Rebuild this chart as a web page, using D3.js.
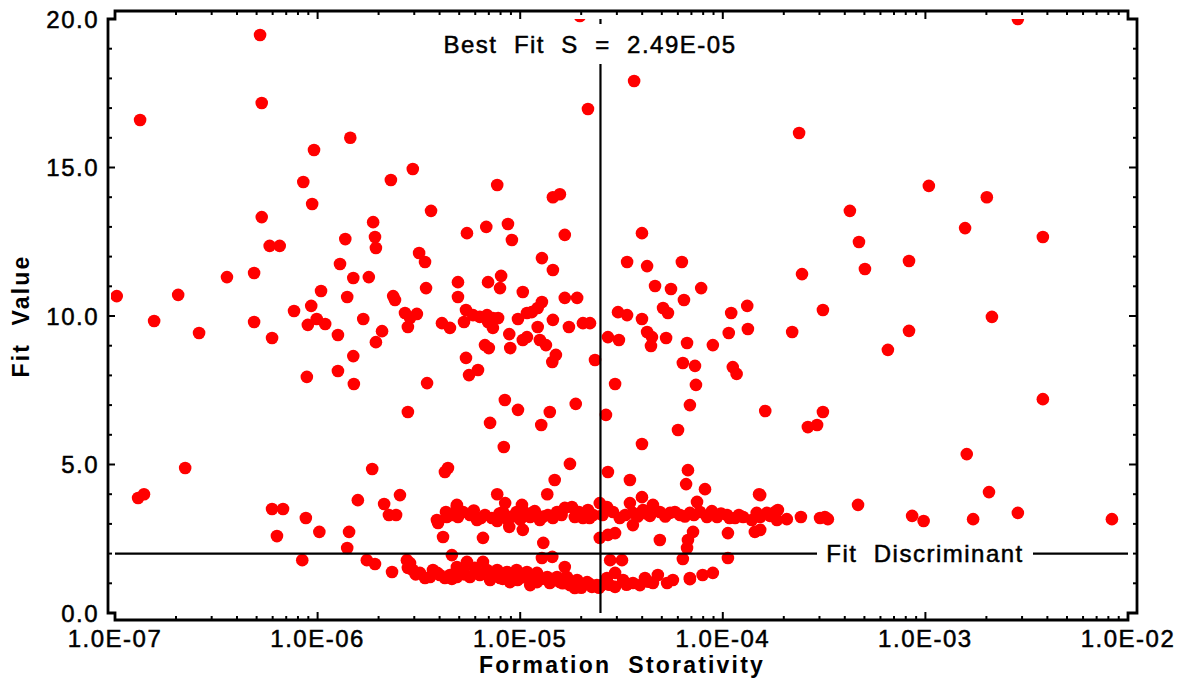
<!DOCTYPE html>
<html>
<head>
<meta charset="utf-8">
<script src="https://cdn.jsdelivr.net/npm/d3@7"></script>
<style>
  body { margin: 0; background: #fff; }
  text { font-family: "Liberation Sans", Arial, sans-serif; fill: #000; }
</style>
</head>
<body>
<svg width="1186" height="686"></svg>
<script>
// axis ticks
var xTickValues = [1e-7, 1e-6, 1e-5, 1e-4, 1e-3, 1e-2];
var xTickLabels = ["1.0E-07", "1.0E-06", "1.0E-05", "1.0E-04", "1.0E-03", "1.0E-02"];
var yTickValues = [0, 5, 10, 15, 20];
var yTickLabels = ["0.0", "5.0", "10.0", "15.0", "20.0"];

var bestFitS = 2.49e-5;
var fitDiscriminant = 2.0;

// [storativity, fit value], grouped by area
var upperLeft = [
  [1.02e-7,10.67],[1.33e-7,16.6],[5.2e-7,19.46],[5.3e-7,17.17],[5.3e-7,13.33],[8.5e-7,14.51],[9.6e-7,15.59],[9.4e-7,13.77],[1.45e-6,16.0],[2.3e-6,14.58],
  [1.88e-6,13.16],[1.92e-6,12.66],[1.94e-6,12.29],[1.37e-6,12.59],[2.95e-6,14.95],[3.63e-6,13.54],[5.8e-7,12.36],[6.5e-7,12.36],[3.57e-7,11.31],[4.86e-7,11.45],
  [2.05e-7,10.71],[1.56e-7,9.83],[2.6e-7,9.43],[4.86e-7,9.8],[5.96e-7,9.26],[7.65e-7,10.17],[9.3e-7,10.34],[1.04e-6,10.84],[8.95e-7,9.7],[9.9e-7,9.9],
  [1.09e-6,9.73],[8.85e-7,7.95],[1.26e-6,9.36],[1.26e-6,8.15],[1.5e-6,8.65],[1.51e-6,7.71],[1.4e-6,10.64],[1.5e-6,11.28],[1.29e-6,11.75],[1.79e-6,11.31],
  [1.68e-6,9.9],[2.08e-6,9.49],[1.94e-6,9.12],[2.36e-6,10.67],[2.41e-6,10.54]
];
var upperMiddle = [
  [2.7e-6,10.1],[2.86e-6,9.93],[3.09e-6,10.07],[2.79e-6,9.63],[3.17e-6,12.12],[3.39e-6,11.82],[3.43e-6,10.94],[3.47e-6,7.74],[4.11e-6,9.76],[4.5e-6,9.6],
  [4.93e-6,11.14],[4.93e-6,10.64],[5.4e-6,10.2],[5.28e-6,9.8],[5.85e-6,10.03],[6.32e-6,9.97],[6.86e-6,10.03],[7.33e-6,9.93],[7.78e-6,9.93],[6.94e-6,9.8],
  [7.33e-6,9.6],[6.94e-6,11.14],[8.05e-6,11.35],[7.95e-6,10.94],[6.7e-6,9.02],[7.0e-6,8.92],[5.4e-6,8.59],[6.19e-6,8.18],[5.59e-6,8.01],[2.79e-6,6.77],
  [8.4e-6,7.17],[9.75e-6,6.84],[7.1e-6,6.4],[8.3e-6,5.59],[1.03e-5,10.81],[1.28e-5,11.95],[1.45e-5,11.55],[1.28e-5,10.47],[1.22e-5,10.27],[1.14e-5,10.13],
  [1.08e-5,10.1],[9.75e-6,9.9],[8.83e-6,9.39],[8.93e-6,8.92],[1.08e-5,9.29],[1.03e-5,9.19],[1.22e-5,9.63],[1.25e-5,9.19],[1.34e-5,9.02],[1.45e-5,9.87],
  [1.5e-5,8.69],[1.44e-5,8.45],[1.74e-5,9.63],[1.66e-5,10.61],[1.91e-5,10.61],[2.04e-5,9.76],[2.21e-5,9.76],[2.34e-5,8.52],[1.88e-5,7.04],[1.4e-5,6.77],
  [1.27e-5,6.33],[7.7e-6,14.41],[1.45e-5,14.0],[1.57e-5,14.1],[5.46e-6,12.79],[6.8e-6,13.0],[8.7e-6,13.1],[9.1e-6,12.56],[1.66e-5,12.73],[2.16e-5,16.97],
  [1.97e-5,20.1]
];
var upperRight = [
  [3.65e-5,17.91],[3.99e-5,12.79],[3.37e-5,11.82],[4.23e-5,11.68],[6.28e-5,11.82],[4.63e-5,11.01],[5.55e-5,10.91],[7.82e-5,10.94],[6.43e-5,10.54],[3.04e-5,10.13],
  [3.37e-5,10.03],[3.99e-5,9.9],[5.07e-5,10.27],[5.36e-5,10.1],[2.71e-5,9.29],[3.07e-5,9.19],[4.23e-5,9.46],[4.47e-5,9.29],[4.42e-5,8.99],[5.25e-5,9.26],
  [6.66e-5,9.09],[8.93e-5,9.02],[1.1e-4,10.1],[1.32e-4,10.34],[1.07e-4,9.43],[1.33e-4,9.56],[6.35e-5,8.42],[7.29e-5,8.32],[1.12e-4,8.28],[1.17e-4,8.05],
  [7.37e-5,7.68],[2.94e-5,7.71],[6.88e-5,7.0],[1.62e-4,6.8],[2.65e-5,6.67],[6.01e-5,6.16],[3.99e-5,5.69],
  [2.38e-4,16.16],[1.04e-3,14.38],[2.01e-3,14.0],[4.24e-4,13.54],[1.57e-3,12.96],[3.8e-3,12.66],[4.7e-4,12.49],[8.3e-4,11.85],[2.46e-4,11.41],[5.03e-4,11.58],
  [3.12e-4,10.2],[2.2e-4,9.46],[8.3e-4,9.5],[2.13e-3,9.97],[6.53e-4,8.86],[3.12e-4,6.77],[2.63e-4,6.26],[2.92e-4,6.33],[3.8e-3,7.2],[1.6e-3,5.35],
  [2.86e-3,20.0]
];
var lowerLeft = [
  [2.22e-7,4.88],[1.3e-7,3.87],[1.39e-7,4.0],[5.96e-7,3.5],[6.75e-7,3.5],[6.3e-7,2.59],[8.75e-7,3.2],[1.02e-6,2.73],[8.4e-7,1.78],[1.43e-6,2.73],
  [1.4e-6,2.19],[1.58e-6,3.8],[1.86e-6,4.85],[2.13e-6,3.67],[2.25e-6,3.3],[2.44e-6,3.3],[2.55e-6,3.97],[1.75e-6,1.78],[1.92e-6,1.65],[2.33e-6,1.38],
  [4.25e-6,4.75],[4.4e-6,4.88],[4.34e-6,3.23],[4.87e-6,3.57],[3.93e-6,3.03],[4.16e-6,2.56],[4.6e-6,1.95],[2.76e-6,1.78],[2.79e-6,1.52],[2.95e-6,1.45],
  [3.2e-6,1.35],[3.59e-6,1.21],[4.01e-6,1.28],[4.5e-6,1.28],[3.71e-6,1.45],[4.87e-6,1.45],[2.86e-6,1.68]
];
var upperBand = [
  [4.87e-6,3.64],[4.93e-6,3.23],[5.65e-6,3.3],[6.12e-6,3.13],[6.7e-6,3.3],[7.25e-6,3.2],[8.22e-6,3.4],[8.7e-6,3.13],[9.6e-6,3.4],[1.06e-5,3.37],
  [1.12e-5,3.23],[1.25e-5,3.13],[1.37e-5,3.3],[1.52e-5,3.4],[1.66e-5,3.54],[1.8e-5,3.57],[1.86e-5,3.23],[2.04e-5,3.2],[2.29e-5,3.3],[2.47e-5,3.7],
  [2.68e-5,3.57],[2.87e-5,3.4],[3.48e-5,3.7],[3.99e-5,3.9],[3.6e-5,3.37],[4.04e-5,3.47],[4.52e-5,3.64],[4.89e-5,3.4],[5.49e-5,3.37],[6.15e-5,3.3],
  [6.88e-5,3.37],[7.46e-5,3.74],[7.72e-5,3.4],[8.35e-5,3.23],[9.37e-5,3.23],[1.05e-4,3.3],[1.26e-4,3.23],[1.39e-4,3.13],[1.47e-4,3.37],[1.65e-4,3.37],
  [1.81e-4,3.4],[3.6e-5,2.96],[1.44e-4,2.73],[3.88e-6,3.13],[4.3e-6,3.4],[5.22e-6,3.4],[7.7e-6,3.1],[1.18e-5,3.43],[2.16e-5,3.47],[3.1e-5,3.2],
  [4.37e-5,3.27],[8.83e-5,3.43],[1.15e-4,3.2],
  [4.6e-6,3.3],[5.9e-6,3.45],[6.4e-6,3.2],[7.9e-6,3.35],[9.1e-6,3.25],[1.0e-5,3.15],[1.15e-5,3.38],[1.3e-5,3.25],[1.45e-5,3.2],[1.6e-5,3.3],
  [1.95e-5,3.4],[2.2e-5,3.2],[2.55e-5,3.3],[3.3e-5,3.3],[3.8e-5,3.25],[4.2e-5,3.35],[5.2e-5,3.25],[5.8e-5,3.4],[6.5e-5,3.25],[7.2e-5,3.3],
  [9.8e-5,3.35],[1.08e-4,3.2],[1.2e-4,3.3],
  [1.53e-4,3.97],[1.53e-4,3.23],[1.71e-4,3.27],[1.87e-4,3.47],[1.85e-4,3.13],[2.07e-4,3.16],[1.53e-4,2.8],[2.43e-4,3.23],[3.02e-4,3.2],[3.19e-4,3.23],
  [3.3e-4,3.16],[4.65e-4,3.64],[8.6e-4,3.27],[9.8e-4,3.1],[1.72e-3,3.16],[2.06e-3,4.07],[2.86e-3,3.37],[8.33e-3,3.16]
];
var middleScatter = [
  [7.7e-6,4.0],[8.43e-6,3.7],[1.02e-5,3.64],[1.36e-5,4.0],[1.48e-5,4.48],[1.76e-5,5.02],[2.71e-5,4.75],[3.48e-5,4.48],[6.73e-5,4.81],[6.59e-5,4.34],
  [8.17e-5,4.17],[1.51e-4,4.0],[8.83e-6,2.9],[1.03e-5,2.8],[6.55e-6,2.53],[1.3e-5,2.36],[2.47e-5,2.53],[2.71e-5,2.63],[2.94e-5,2.69],[4.89e-5,2.46],
  [7.13e-5,2.73],[6.73e-5,2.46],[6.66e-5,2.19],[1.06e-4,2.69],[6.35e-5,1.82],[1.06e-4,1.85],[1.28e-5,1.85],[1.44e-5,1.89],[7.95e-5,1.28],[8.93e-5,1.35],
  [6.88e-5,1.14]
];
var lowerBand = [
  [4.87e-6,1.55],[5.46e-6,1.72],[5.22e-6,1.45],[5.97e-6,1.52],[6.55e-6,1.72],[6.86e-6,1.45],[7.7e-6,1.45],[8.6e-6,1.38],[9.6e-6,1.45],[1.08e-5,1.38],
  [1.21e-5,1.35],[1.36e-5,1.21],[1.52e-5,1.21],[1.66e-5,1.55],[1.7e-5,1.21],[1.91e-5,1.11],[2.14e-5,1.04],[2.39e-5,0.94],[2.26e-5,0.88],[4.87e-6,1.21],
  [5.65e-6,1.21],[6.32e-6,1.28],[7.95e-6,1.18],[9.7e-6,1.11],[1.21e-5,1.04],[1.4e-5,1.01],[1.57e-5,1.04],[1.76e-5,0.94],[2.04e-5,0.94],[2.53e-5,0.94],
  [2.78e-5,1.78],[3.18e-5,1.78],[2.68e-5,1.18],[2.94e-5,1.35],[3.22e-5,1.11],[3.6e-5,1.01],[4.13e-5,1.18],[4.78e-5,1.28],[4.52e-5,1.01],[5.31e-5,1.01],
  [6.88e-5,1.18],[5.67e-5,1.11],[3.39e-6,1.18],[4.25e-6,1.18],[8.9e-6,1.04],[1.12e-5,0.94],[1.86e-5,0.84],[2.94e-5,0.88],[3.9e-5,0.94],[7.1e-6,1.11],
  [3.05e-6,1.3],[3.9e-6,1.35],[4.6e-6,1.15],[5.3e-6,1.3],[6.0e-6,1.4],[7.4e-6,1.25],[8.2e-6,1.15],[9.2e-6,1.25],[1.02e-5,1.2],[1.15e-5,1.1],
  [1.28e-5,1.15],[1.45e-5,1.1],[1.62e-5,1.0],[1.82e-5,1.0],[2.0e-5,0.85],[2.2e-5,0.98],[2.45e-5,0.85],[2.75e-5,0.95],[3.35e-5,0.95],[4.3e-5,1.05]
];

var points = [].concat(upperLeft, upperMiddle, upperRight, lowerLeft, upperBand, middleScatter, lowerBand);

var svg = d3.select("svg");
var font = "'Liberation Sans', Arial, sans-serif";

var x = d3.scaleLog().domain([1e-7, 1e-2]).range([115, 1128]);
var y = d3.scaleLinear().domain([0, 20]).range([613, 19]);

var x0 = x.range()[0], x1 = x.range()[1], y0 = y.range()[0], y1 = y.range()[1];

svg.append("rect").attr("width", 1186).attr("height", 686).attr("fill", "#fff");

svg.append("clipPath").attr("id", "plotclip")
  .append("rect").attr("x", x0 - 4).attr("y", y1).attr("width", x1 - x0 + 8).attr("height", y0 - y1 + 3);

// points
svg.append("g").attr("clip-path", "url(#plotclip)")
  .selectAll("circle")
  .data(points)
  .enter().append("circle")
    .attr("cx", function(d) { return x(d[0]); })
    .attr("cy", function(d) { return y(d[1]); })
    .attr("r", 6.3)
    .attr("fill", "#ff0000");

// reference lines
svg.append("line")
  .attr("x1", x(bestFitS)).attr("x2", x(bestFitS))
  .attr("y1", y1).attr("y2", y0)
  .attr("stroke", "#000").attr("stroke-width", 2.2);
svg.append("line")
  .attr("x1", x0).attr("x2", x1)
  .attr("y1", y(fitDiscriminant)).attr("y2", y(fitDiscriminant))
  .attr("stroke", "#000").attr("stroke-width", 2.2);

// frame with offset axes and corner jogs
var frame = d3.path();
frame.moveTo(x0 - 7, y1);
frame.lineTo(x0 - 7, y0);
frame.lineTo(x0, y0);
frame.lineTo(x0, y0 + 7);
frame.lineTo(x1, y0 + 7);
frame.lineTo(x1, y0);
frame.lineTo(x1 + 9, y0);
frame.lineTo(x1 + 9, y1);
frame.lineTo(x1, y1);
frame.lineTo(x1, y1 - 8);
frame.lineTo(x0, y1 - 8);
frame.lineTo(x0, y1);
frame.closePath();
svg.append("path").attr("d", frame.toString())
  .attr("fill", "none").attr("stroke", "#000").attr("stroke-width", 2.8)
  .attr("stroke-linejoin", "miter");

// x ticks (major + minor), inward on bottom and top
var xTicks = [];
xTickValues.forEach(function(v, i) {
  xTicks.push({v: v, major: true});
  if (i < xTickValues.length - 1) {
    for (var m = 2; m <= 9; m++) xTicks.push({v: v * m, major: false});
  }
});
var tg = svg.append("g").attr("stroke", "#000").attr("stroke-width", 2);
tg.selectAll(".xb").data(xTicks).enter().append("line")
  .attr("x1", function(d) { return x(d.v); }).attr("x2", function(d) { return x(d.v); })
  .attr("y1", y0 + 7).attr("y2", function(d) { return y0 + 7 - (d.major ? 8 : 4); });
tg.selectAll(".xt").data(xTicks).enter().append("line")
  .attr("x1", function(d) { return x(d.v); }).attr("x2", function(d) { return x(d.v); })
  .attr("y1", y1 - 8).attr("y2", function(d) { return y1 - 8 + (d.major ? 8 : 4); });

// y ticks every unit, major every 5
var yTicks = d3.range(0, 21).map(function(v) { return {v: v, major: v % 5 === 0}; });
tg.selectAll(".yl").data(yTicks).enter().append("line")
  .attr("y1", function(d) { return y(d.v); }).attr("y2", function(d) { return y(d.v); })
  .attr("x1", x0 - 7).attr("x2", function(d) { return x0 - 7 + (d.major ? 7 : 4); });
tg.selectAll(".yr").data(yTicks).enter().append("line")
  .attr("y1", function(d) { return y(d.v); }).attr("y2", function(d) { return y(d.v); })
  .attr("x1", x1 + 9).attr("x2", function(d) { return x1 + 9 - (d.major ? 8 : 4); });

// tick labels (slight stroke to mimic the heavy bitmap font)
svg.append("g").selectAll("text").data(xTickValues).enter().append("text")
  .attr("x", function(d) { return x(d); })
  .attr("y", 647)
  .attr("text-anchor", "middle")
  .attr("font-family", font).attr("font-size", 24).attr("letter-spacing", 1.5)
  .attr("stroke", "#000").attr("stroke-width", 0.5)
  .text(function(d, i) { return xTickLabels[i]; });

svg.append("g").selectAll("text").data(yTickValues).enter().append("text")
  .attr("x", 99)
  .attr("y", function(d) { return y(d); })
  .attr("dy", "0.36em")
  .attr("text-anchor", "end")
  .attr("font-family", font).attr("font-size", 24).attr("letter-spacing", 1.5)
  .attr("stroke", "#000").attr("stroke-width", 0.5)
  .text(function(d, i) { return yTickLabels[i]; });

// axis titles
svg.append("text")
  .attr("x", 622).attr("y", 673)
  .attr("text-anchor", "middle")
  .attr("font-family", font).attr("font-size", 23).attr("font-weight", "bold")
  .attr("letter-spacing", 2.2).style("white-space", "pre")
  .text("Formation  Storativity");

svg.append("text")
  .attr("transform", "translate(29," + y(10) + ") rotate(-90)")
  .attr("text-anchor", "middle")
  .attr("font-family", font).attr("font-size", 23).attr("font-weight", "bold")
  .attr("letter-spacing", 2.2).style("white-space", "pre")
  .text("Fit  Value");

// annotation labels on white backing
var bestLabel = svg.append("g");
bestLabel.append("rect")
  .attr("x", 436).attr("y", 24).attr("width", 310).attr("height", 40).attr("fill", "#fff");
bestLabel.append("text")
  .attr("x", 590).attr("y", 53)
  .attr("text-anchor", "middle")
  .attr("font-family", font).attr("font-size", 24).attr("letter-spacing", 1.5)
  .attr("stroke", "#000").attr("stroke-width", 0.5)
  .style("white-space", "pre")
  .text("Best  Fit  S  =  2.49E-05");

var discLabel = svg.append("g");
discLabel.append("rect")
  .attr("x", 817).attr("y", y(fitDiscriminant) - 12).attr("width", 216).attr("height", 24).attr("fill", "#fff");
discLabel.append("text")
  .attr("x", 925).attr("y", y(fitDiscriminant))
  .attr("dy", "0.36em")
  .attr("text-anchor", "middle")
  .attr("font-family", font).attr("font-size", 24).attr("letter-spacing", 1.5)
  .attr("stroke", "#000").attr("stroke-width", 0.5)
  .style("white-space", "pre")
  .text("Fit  Discriminant");
</script>
</body>
</html>
